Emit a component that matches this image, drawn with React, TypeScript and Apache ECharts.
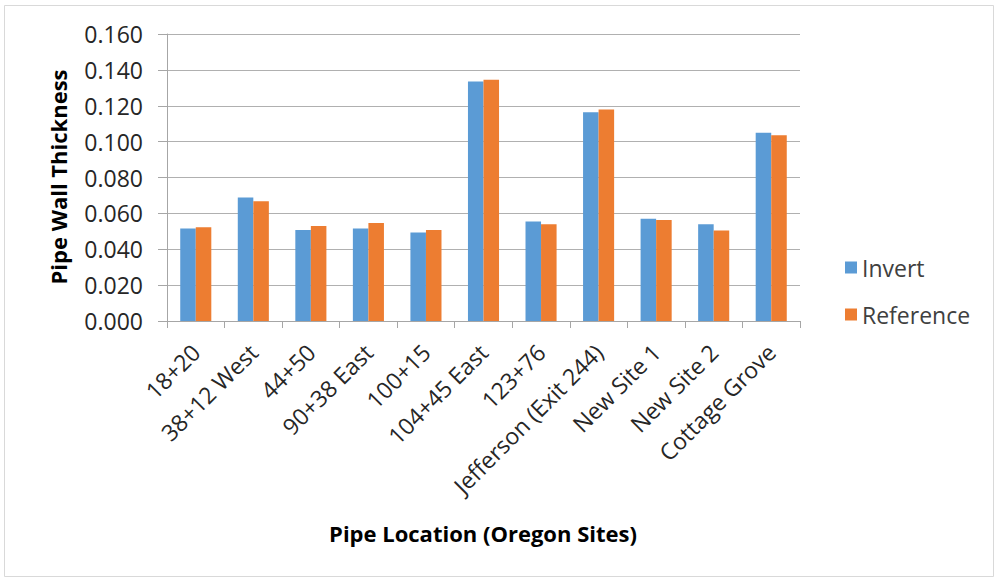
import React, { useEffect, useRef } from "react";
import * as echarts from "echarts";

const categories = [
  "18+20",
  "38+12 West",
  "44+50",
  "90+38 East",
  "100+15",
  "104+45 East",
  "123+76",
  "Jefferson (Exit 244)",
  "New Site 1",
  "New Site 2",
  "Cottage Grove",
];
const invertValues = [0.0516, 0.0689, 0.0508, 0.0516, 0.0494, 0.1335, 0.0555, 0.1164, 0.057, 0.054, 0.105];
const referenceValues = [0.0523, 0.0668, 0.053, 0.0546, 0.0508, 0.1345, 0.054, 0.1179, 0.0563, 0.0505, 0.1035];
const seriesNames = ["Invert", "Reference"];
const yAxisTitle = "Pipe Wall Thickness";
const xAxisTitle = "Pipe Location (Oregon Sites)";

const FONT = "'Open Sans', sans-serif";

export default function App() {
  const ref = useRef<HTMLDivElement>(null);
  useEffect(() => {
    if (!ref.current) return;
    const chart = echarts.init(ref.current, null, { renderer: "svg" });
    chart.setOption({
      animation: false,
      backgroundColor: "#ffffff",
      textStyle: { fontFamily: FONT },
      grid: { left: 167, right: 194, top: 34, bottom: 258, containLabel: false },
      legend: {
        orient: "vertical",
        left: 840,
        top: 251,
        itemWidth: 12,
        itemHeight: 12,
        itemGap: 24,
        icon: "rect",
        textStyle: { fontSize: 23, color: "#404040", fontFamily: FONT },
        data: seriesNames,
      },
      xAxis: {
        type: "category",
        data: categories,
        axisLine: { show: true, lineStyle: { color: "#a6a6a6", width: 1 } },
        axisTick: { show: true, length: 7, alignWithLabel: false, lineStyle: { color: "#a6a6a6" } },
        axisLabel: {
          interval: 0,
          rotate: 45,
          margin: 27,
          fontSize: 23,
          color: "#262626",
          fontFamily: FONT,
        },
      },
      yAxis: {
        type: "value",
        min: 0,
        max: 0.16,
        interval: 0.02,
        axisLine: { show: true, lineStyle: { color: "#a6a6a6", width: 1 } },
        axisTick: { show: true, length: 9, inside: false, lineStyle: { color: "#a6a6a6" } },
        splitLine: { show: true, lineStyle: { color: "#b0b0b0", width: 1 } },
        axisLabel: {
          fontSize: 23,
          color: "#262626",
          margin: 24,
          fontFamily: FONT,
          formatter: (v: number) => v.toFixed(3),
        },
      },
      series: [
        {
          name: seriesNames[0],
          type: "bar",
          data: invertValues,
          itemStyle: { color: "#5b9bd5" },
          barGap: "0%",
          barCategoryGap: "46%",
        },
        {
          name: seriesNames[1],
          type: "bar",
          data: referenceValues,
          itemStyle: { color: "#ed7d31" },
          barGap: "0%",
          barCategoryGap: "46%",
        },
      ],
      graphic: [
        {
          type: "rect",
          shape: { x: 4.5, y: 5.5, width: 989, height: 571 },
          style: { fill: "none", stroke: "#d9d9d9", lineWidth: 1 },
          silent: true,
          z: -1,
        },
        {
          type: "text",
          x: 58,
          y: 177,
          rotation: Math.PI / 2,
          style: {
            text: yAxisTitle,
            fontSize: 22,
            fontWeight: "bold",
            fontFamily: FONT,
            fill: "#000000",
            align: "center",
            verticalAlign: "middle",
          },
        },
        {
          type: "text",
          x: 483,
          y: 533,
          style: {
            text: xAxisTitle,
            fontSize: 22,
            fontWeight: "bold",
            fontFamily: FONT,
            fill: "#000000",
            align: "center",
            verticalAlign: "middle",
          },
        },
      ],
    });
    return () => chart.dispose();
  }, []);
  return <div ref={ref} style={{ width: 994, height: 579, position: "absolute", left: 0, top: 0 }} />;
}
